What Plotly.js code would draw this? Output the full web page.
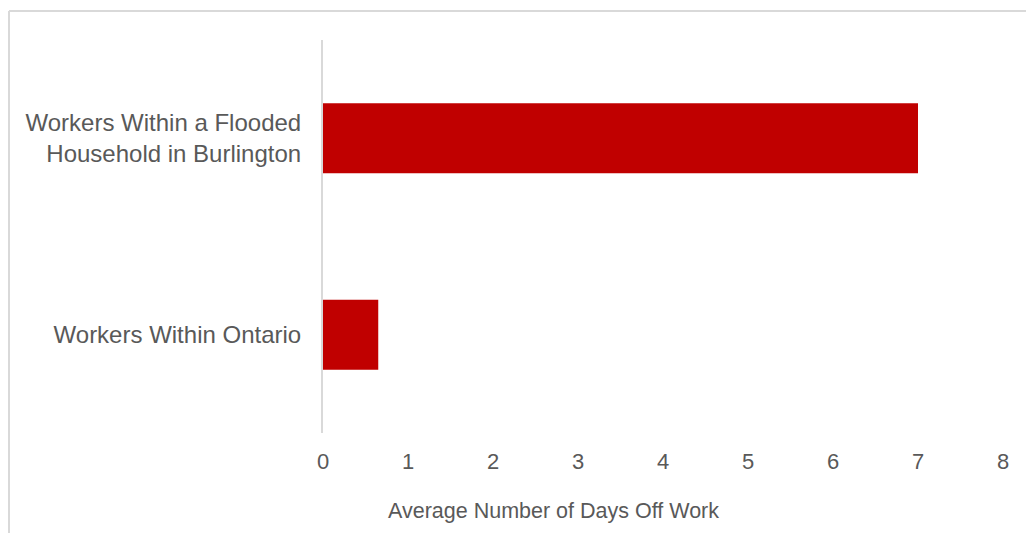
<!DOCTYPE html>
<html>
<head>
<meta charset="utf-8">
<script src="https://cdn.plot.ly/plotly-3.0.1.min.js"></script>
<style>
  html, body { margin: 0; padding: 0; background: #ffffff; }
  #chart { width: 1026px; height: 533px; }
</style>
</head>
<body>
<div id="chart"></div>
<script>
// Data
var categories = ["Workers Within a Flooded<br>Household in Burlington", "Workers Within Ontario"];
var daysOff = [7, 0.65];
var xTickValues = [0, 1, 2, 3, 4, 5, 6, 7, 8];
var xAxisTitle = "Average Number of Days Off Work";

var W = 1026, H = 533;
var m = { l: 323, r: 23, t: 40, b: 100 };
var pw = W - m.l - m.r, ph = H - m.t - m.b;
function px(xp) { return (xp - m.l) / pw; }
function py(yp) { return (H - m.b - yp) / ph; }

var textColor = "#595959";
var font = "Arial, 'Liberation Sans', sans-serif";

var trace = {
  type: "bar",
  orientation: "h",
  x: daysOff,
  y: categories,
  marker: { color: "#C00000" },
  hoverinfo: "x+y"
};

var layout = {
  width: W,
  height: H,
  margin: m,
  paper_bgcolor: "#ffffff",
  plot_bgcolor: "#ffffff",
  bargap: 0.644,
  showlegend: false,
  font: { family: font, color: textColor },
  xaxis: {
    range: [0, 8],
    tickvals: xTickValues,
    showgrid: false,
    zeroline: false,
    showline: false,
    ticks: "outside",
    ticklen: 9,
    tickcolor: "rgba(0,0,0,0)",
    tickfont: { family: font, size: 22, color: textColor }
  },
  yaxis: {
    autorange: "reversed",
    showgrid: false,
    zeroline: false,
    showline: true,
    linecolor: "#d9d9d9",
    linewidth: 2,
    ticks: "outside",
    ticklen: 15,
    tickcolor: "rgba(0,0,0,0)",
    tickfont: { family: font, size: 24, color: textColor }
  },
  annotations: [
    { text: xAxisTitle, xref: "paper", yref: "paper", x: px(553), y: py(511),
      xanchor: "center", yanchor: "middle", showarrow: false,
      font: { family: font, size: 21.5, color: textColor } }
  ],
  shapes: [
    { type: "line", xref: "paper", yref: "paper", x0: px(9), x1: px(1030), y0: py(11), y1: py(11),
      line: { color: "#d9d9d9", width: 2 } },
    { type: "line", xref: "paper", yref: "paper", x0: px(9), x1: px(9), y0: py(11), y1: py(540),
      line: { color: "#d9d9d9", width: 2 } }
  ]
};

Plotly.newPlot("chart", [trace], layout, { displayModeBar: false, staticPlot: true });
</script>
</body>
</html>
